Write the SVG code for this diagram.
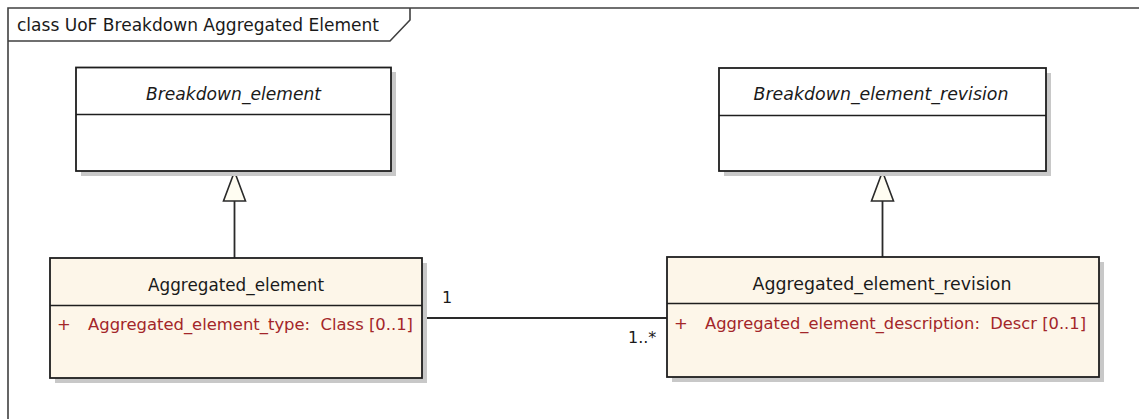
<svg xmlns="http://www.w3.org/2000/svg" width="1139" height="419" viewBox="0 0 1139 419">
<defs>
<style>
.frame{fill:none;stroke:#404040;stroke-width:1.6}
.box{stroke:#1e1e1e;stroke-width:1.8}
.white{fill:#ffffff}
.cream{fill:#fdf6e9}
.shadow{fill:#c8c8c8}
.div{stroke:#1e1e1e;stroke-width:1.6}
.t{font-family:"DejaVu Sans","Liberation Sans",sans-serif;font-size:17px;fill:#1a1a1a;text-anchor:middle}
.it{font-style:italic}
.attr{font-family:"DejaVu Sans","Liberation Sans",sans-serif;font-size:16.4px;fill:#a3262a;white-space:pre}
.lbl{font-family:"DejaVu Sans","Liberation Sans",sans-serif;font-size:16px;fill:#1a1a1a}
.edge{fill:none;stroke:#2a2a2a;stroke-width:1.8}
.tri{fill:#fffdf2;stroke:#2a2a2a;stroke-width:1.6;stroke-linejoin:miter}
</style>
</defs>
<rect width="1139" height="419" fill="#ffffff"/>
<g id="frame">
<path class="frame" d="M8,419 V8 H1139"/>
<path class="frame" d="M8,41 H390 L410,20 V8"/>
<text x="17" y="31" class="lbl" style="font-size:17px" textLength="362" lengthAdjust="spacingAndGlyphs">class UoF Breakdown Aggregated Element</text>
</g>
<g id="connectors">
<path class="edge" d="M234.5,201 V258"/>
<polygon class="tri" points="234.5,171.5 223.5,201 245.5,201"/>
<path class="edge" d="M882.5,201 V257"/>
<polygon class="tri" points="882.5,171.5 871.5,201 893.5,201"/>
<path class="edge" d="M422,318 H667"/>
<text class="lbl" x="442" y="303">1</text>
<text class="lbl" x="628" y="343">1..*</text>
</g>
<g id="Breakdown_element">
<rect class="shadow" x="81" y="72" width="315" height="104"/>
<rect class="box white" x="76" y="67.5" width="315" height="103.5"/>
<line class="div" x1="76" y1="114.5" x2="391" y2="114.5"/>
<text class="t it" x="233.5" y="100" textLength="175" lengthAdjust="spacingAndGlyphs">Breakdown_element</text>
</g>
<g id="Breakdown_element_revision">
<rect class="shadow" x="724" y="73" width="327" height="103"/>
<rect class="box white" x="719" y="68" width="327" height="103"/>
<line class="div" x1="719" y1="115.5" x2="1046" y2="115.5"/>
<text class="t it" x="881" y="100" textLength="255" lengthAdjust="spacingAndGlyphs">Breakdown_element_revision</text>
</g>
<g id="Aggregated_element">
<rect class="shadow" x="55" y="263" width="372" height="120"/>
<rect class="box cream" x="50" y="258" width="372" height="120"/>
<line class="div" x1="50" y1="305.5" x2="422" y2="305.5"/>
<text class="t" x="236" y="291" textLength="176" lengthAdjust="spacingAndGlyphs">Aggregated_element</text>
<text class="attr" x="57" y="330">+</text>
<text class="attr" x="88" y="330" xml:space="preserve" textLength="325" lengthAdjust="spacingAndGlyphs">Aggregated_element_type:  Class [0..1]</text>
</g>
<g id="Aggregated_element_revision">
<rect class="shadow" x="672" y="262" width="432" height="120"/>
<rect class="box cream" x="667" y="257" width="432" height="120"/>
<line class="div" x1="667" y1="303.5" x2="1099" y2="303.5"/>
<text class="t" x="882" y="290" textLength="259" lengthAdjust="spacingAndGlyphs">Aggregated_element_revision</text>
<text class="attr" x="674" y="329">+</text>
<text class="attr" x="705" y="329" xml:space="preserve" textLength="381" lengthAdjust="spacingAndGlyphs">Aggregated_element_description:  Descr [0..1]</text>
</g>
</svg>
